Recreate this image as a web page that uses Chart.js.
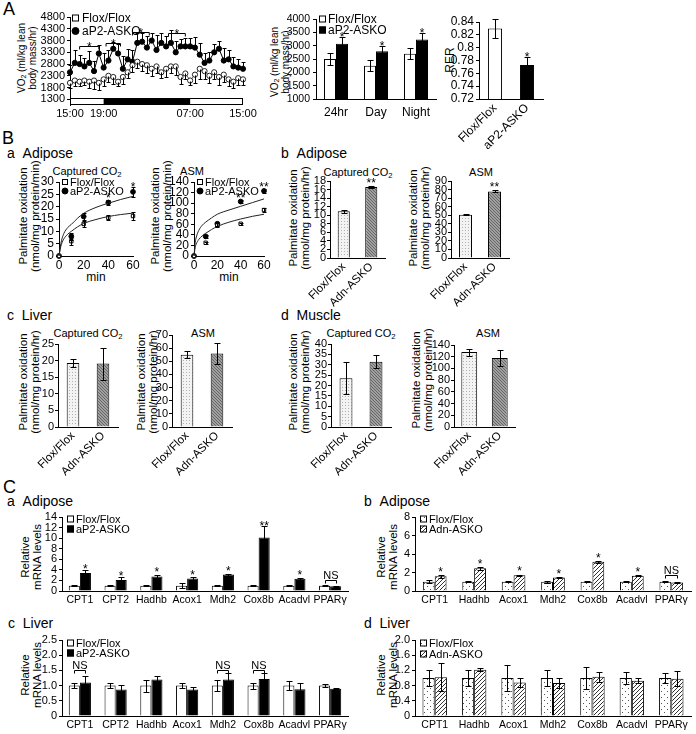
<!DOCTYPE html>
<html>
<head>
<meta charset="utf-8">
<script src="https://cdn.jsdelivr.net/npm/chart.js@4"></script>
<style>
body { margin: 0; background: #fff; font-family: 'Liberation Sans', Arial, sans-serif; color: #000; }
#page { position: relative; width: 696px; height: 734px; overflow: hidden; }
.c { position: absolute; }
.h { position: absolute; transform: translateY(-50%); white-space: nowrap; }
.big { font-size: 18px; }
.sub { font-size: 14px; }
.ct { position: absolute; transform: translate(-50%, -50%); font-size: 11px; white-space: nowrap; }
.yt { position: absolute; transform: translate(-50%, -50%) rotate(-90deg); text-align: center; white-space: nowrap; font-size: 11.5px; line-height: 12px; }
sub { font-size: 0.7em; vertical-align: -0.2em; line-height: 0; }
</style>
</head>
<body>
<div id="page">
  <div class="h big" style="left:3px;top:9px">A</div>
  <div class="h big" style="left:2px;top:138px">B</div>
  <div class="h sub" style="left:7px;top:153px">a&nbsp;&nbsp;Adipose</div>
  <div class="h sub" style="left:281px;top:153px">b&nbsp;&nbsp;Adipose</div>
  <div class="h sub" style="left:7px;top:315px">c&nbsp;&nbsp;Liver</div>
  <div class="h sub" style="left:281px;top:315px">d&nbsp;&nbsp;Muscle</div>
  <div class="h big" style="left:3px;top:487px">C</div>
  <div class="h sub" style="left:7px;top:501px">a&nbsp;&nbsp;Adipose</div>
  <div class="h sub" style="left:364px;top:501px">b&nbsp;&nbsp;Adipose</div>
  <div class="h sub" style="left:8px;top:623px">c&nbsp;&nbsp;Liver</div>
  <div class="h sub" style="left:364px;top:623px">d&nbsp;&nbsp;Liver</div>

  <div class="ct" style="left:87px;top:171px">Captured CO<sub>2</sub></div>
  <div class="ct" style="left:192px;top:171px">ASM</div>
  <div class="ct" style="left:358px;top:172px">Captured CO<sub>2</sub></div>
  <div class="ct" style="left:481px;top:172px">ASM</div>
  <div class="ct" style="left:88px;top:333px">Captured CO<sub>2</sub></div>
  <div class="ct" style="left:203px;top:333px">ASM</div>
  <div class="ct" style="left:361px;top:333px">Captured CO<sub>2</sub></div>
  <div class="ct" style="left:488px;top:333px">ASM</div>
  <div class="ct" style="left:96px;top:277px;font-size:12px">min</div>
  <div class="ct" style="left:229px;top:277px;font-size:12px">min</div>

  <div class="yt" style="left:27px;top:58px;font-size:10px;line-height:11px">VO<sub>2</sub> (ml/kg lean<br>body mass/hr)</div>
  <div class="yt" style="left:280px;top:62px;font-size:10px;line-height:11px">VO<sub>2</sub> (ml/kg lean<br>body mass/hr)</div>
  <div class="yt" style="left:450px;top:60px;font-size:12px">RER</div>
  <div class="yt" style="left:29px;top:216px">Palmitate oxidation<br>(nmol/mg protein/min)</div>
  <div class="yt" style="left:161px;top:216px">Palmitate oxidation<br>(nmol/mg protein/min)</div>
  <div class="yt" style="left:299px;top:218px">Palmitate oxidation<br>(nmol/mg protein/hr)</div>
  <div class="yt" style="left:419px;top:218px">Palmitate oxidation<br>(nmol/mg protein/hr)</div>
  <div class="yt" style="left:29px;top:382px">Palmitate oxidation<br>(nmol/mg protein/hr)</div>
  <div class="yt" style="left:147px;top:382px">Palmitate oxidation<br>(nmol/mg protein/hr)</div>
  <div class="yt" style="left:299px;top:382px">Palmitate oxidation<br>(nmol/mg protein/hr)</div>
  <div class="yt" style="left:422px;top:380px">Palmitate oxidation<br>(nmol/mg protein/hr)</div>
  <div class="yt" style="left:31px;top:557px">Relative<br>mRNA levels</div>
  <div class="yt" style="left:387px;top:557px">Relative<br>mRNA levels</div>
  <div class="yt" style="left:31px;top:675px">Relative<br>mRNA levels</div>
  <div class="yt" style="left:387px;top:675px">Relative<br>mRNA levels</div>
</div>
<script>
// ---------- data ----------
// A: VO2 time course, one reading every 40 min
const vo2Flox = [2000, 2100, 2050, 2100, 2050, 2100, 2000, 2150, 2300, 2250, 2050, 2250, 2450, 2750, 2900, 2800, 2750, 2600, 2700,
  2450, 2600, 2700, 2700, 2250, 2400, 2100, 2350, 2600, 2500, 2300, 2450, 2250, 2350, 2150, 2050, 2200, 2150];
const vo2FloxErr = [200, 250, 200, 200, 250, 350, 300, 300, 250, 300, 200, 300, 250, 300, 250, 300, 350, 300, 300,
  250, 350, 300, 350, 300, 250, 200, 350, 450, 350, 300, 300, 350, 300, 300, 250, 300, 250];
const vo2Ko = [2450, 2850, 2800, 2700, 2850, 2500, 3250, 2650, 2950, 3450, 3250, 2600, 3000, 2900, 3700, 3750, 3500, 3800, 3400,
  3700, 3550, 3700, 3300, 3550, 3550, 3550, 3500, 3200, 2850, 2950, 3300, 3450, 2950, 3000, 2700, 2650, 2600];
const vo2KoErr = [300, 550, 400, 350, 500, 450, 350, 600, 450, 300, 400, 550, 450, 500, 400, 350, 500, 300, 650,
  400, 450, 550, 500, 300, 350, 350, 450, 500, 400, 350, 350, 350, 550, 400, 400, 350, 300];
const clockTickAt = [0, 7, 25, 36];
const clockTickText = ['15:00', '19:00', '07:00', '15:00'];
const darkFrom = 7, darkTo = 25;
const vo2Ticks = [1300, 1800, 2300, 2800, 3300, 3800, 4300, 4800];
const vo2Sig = [[2, 6, 3550], [7.5, 10.5, 3700], [13, 16.5, 4150], [20.5, 24, 4100]];

// A: VO2 by period
const periods = ['24hr', 'Day', 'Night'];
const avgFlox = [2500, 2250, 2700], avgFloxErr = [220, 200, 200];
const avgKo = [3070, 2790, 3230], avgKoErr = [260, 200, 230];
const avgTicks = [1000, 1500, 2000, 2500, 3000, 3500, 4000];

// A: RER
const groupsA = ['Flox/Flox', 'aP2-ASKO'];
const rer = [0.83, 0.773], rerErr = [0.015, 0.012];
const rerTicks = [0.72, 0.74, 0.76, 0.78, 0.8, 0.82, 0.84];

// B a: palmitate oxidation time course (min)
const sampleMin = [0, 10, 20, 40, 60];
const coFlox = [0, 6, 13, 15.5, 16.2], coFloxErr = [0, 1.5, 1.2, 1, 1.5];
const coKo = [0, 8, 16, 21.7, 26], coKoErr = [0, 1.5, 1.3, 1.2, 2];
const asmFlox = [0, 25, 58, 61, 87], asmFloxErr = [0, 2, 4, 2, 3];
const asmKo = [0, 37, 61, 103, 123], asmKoErr = [0, 3, 4, 3, 4];
const fitMin = [0, 1, 2, 4, 7, 10, 15, 20, 30, 40, 50, 60];
const coFloxFit = [0, 2.8, 4.8, 7, 8.8, 10, 11.8, 13.2, 14.8, 16, 16.8, 17.4];
const coKoFit = [0, 3.6, 6.2, 9.2, 11.5, 12.8, 15.3, 17.3, 19.7, 21.4, 22.9, 24.2];
const asmFloxFit = [0, 16, 23, 31, 38, 43, 50, 56, 64, 70, 75, 79];
const asmKoFit = [0, 25, 36, 48, 58, 64, 72, 79, 87, 94, 101, 108];

// B b-d: two-group bars
const groupsB = ['Flox/Flox', 'Adn-ASKO'];
const adCO2 = [10.9, 16.6], adCO2Err = [0.3, 0.2];
const adASM = [50.5, 77.8], adASMErr = [0.6, 1.2];
const lvCO2 = [19.3, 19.1], lvCO2Err = [1.3, 4.8];
const lvASM = [55, 56], lvASMErr = [2.5, 8];
const msCO2 = [23.5, 31.5], msCO2Err = [7.7, 3];
const msASM = [128, 118], msASMErr = [6, 13];

// C: relative mRNA levels
const genes8 = ['CPT1', 'CPT2', 'Hadhb', 'Acox1', 'Mdh2', 'Cox8b', 'Acadvl', 'PPAR\u03b3'];
const genes7 = ['CPT1', 'Hadhb', 'Acox1', 'Mdh2', 'Cox8b', 'Acadvl', 'PPAR\u03b3'];
const caFlox = [1, 1, 1, 1, 1, 1, 1, 1], caFloxErr = [0.08, 0.05, 0.05, 0.5, 0.05, 0.05, 0.05, 0.1];
const caKo = [3.4, 2.1, 2.75, 2.35, 3.1, 10.1, 2.3, 0.9], caKoErr = [0.6, 0.55, 0.3, 0.25, 0.2, 2.2, 0.25, 0.05];
const cbFlox = [1, 1, 1, 1, 1, 1, 1], cbFloxErr = [0.15, 0.03, 0.05, 0.12, 0.03, 0.05, 0.03];
const cbKo = [1.6, 2.45, 1.7, 1.45, 3.15, 1.65, 0.93], cbKoErr = [0.15, 0.15, 0.05, 0.08, 0.07, 0.07, 0.03];
const ccFlox = [1, 1, 1, 1, 1, 1, 1, 1], ccFloxErr = [0.08, 0.08, 0.2, 0.08, 0.18, 0.1, 0.15, 0.05];
const ccKo = [1.1, 0.87, 1.2, 0.87, 1.2, 1.22, 0.88, 0.9], ccKoErr = [0.22, 0.14, 0.1, 0.1, 0.2, 0.2, 0.2, 0.02];
const cdFlox = [1, 1, 1, 1, 1, 1, 1], cdFloxErr = [0.22, 0.2, 0.33, 0.22, 0.3, 0.15, 0.12];
const cdKo = [1.02, 1.22, 0.88, 0.87, 1.03, 0.93, 0.98], cdKoErr = [0.37, 0.04, 0.12, 0.14, 0.14, 0.07, 0.2];

// ---------- setup ----------
const FONT = "'Liberation Sans', Arial, sans-serif";
Chart.defaults.font.family = FONT;
Chart.defaults.font.size = 11;
Chart.defaults.color = '#000';
Chart.defaults.animation = false;
Chart.defaults.plugins.legend.display = false;
Chart.defaults.plugins.tooltip.enabled = false;

function tile(w, h, paint) {
  const c = document.createElement('canvas');
  c.width = w; c.height = h;
  const g = c.getContext('2d');
  paint(g);
  return g.createPattern(c, 'repeat');
}
const dotsLight = tile(3, 3, g => { g.fillStyle = '#f3f3f3'; g.fillRect(0, 0, 3, 3); g.fillStyle = '#b0b0b0'; g.fillRect(1, 1, 1, 1); });
const grayHatch = tile(3, 3, g => { g.fillStyle = '#a0a0a0'; g.fillRect(0, 0, 3, 3); g.fillStyle = '#666'; for (let k = 0; k < 3; k++) g.fillRect(k, k, 1, 1); });
const dotsSparse = tile(6, 6, g => { g.fillStyle = '#fff'; g.fillRect(0, 0, 6, 6); g.fillStyle = '#555'; g.fillRect(2, 1, 1, 1); g.fillRect(5, 4, 1, 1); });
const stripes = tile(4, 4, g => { g.fillStyle = '#fff'; g.fillRect(0, 0, 4, 4); g.fillStyle = '#333'; for (let k = 0; k < 4; k++) g.fillRect(k, 3 - k, 1, 1); });

// plot = [left, top, right, bottom] of the chart area on the page, m = room around it
function frame(plot, m) {
  const [L, T, R, B] = plot;
  const box = document.createElement('div');
  box.className = 'c';
  Object.assign(box.style, {
    left: (L - m[0]) + 'px', top: (T - m[1]) + 'px',
    width: (R - L + m[0] + m[2]) + 'px', height: (B - T + m[1] + m[3]) + 'px'
  });
  const cv = document.createElement('canvas');
  box.appendChild(cv);
  document.getElementById('page').appendChild(box);
  return cv;
}

function yAxis(m, min, max, ticks, fmt, size, pad) {
  return {
    min, max,
    afterFit: s => { s.width = m[0]; },
    afterBuildTicks: s => { s.ticks = ticks.map(v => ({ value: v })); },
    border: { display: true, color: '#000', width: 1 },
    grid: { drawOnChartArea: false, drawTicks: true, tickLength: 3, color: '#000' },
    ticks: { autoSkip: false, padding: pad == null ? 2 : pad, font: { size: size || 11 }, callback: fmt || (v => String(v)) },
  };
}

function xCat(m, rot, size, pad) {
  return {
    afterFit: s => { s.height = m[3]; },
    border: { display: true, color: '#000', width: 1 },
    grid: { display: true, drawOnChartArea: false, drawTicks: false },
    ticks: { autoSkip: false, maxRotation: rot, minRotation: rot, padding: pad, font: { size } },
  };
}

// error bars, stars, brackets, light/dark bar and the small keys
function decor(cfg) {
  function bracket(ctx, a, b, yy, text, size, lift) {
    ctx.beginPath();
    ctx.moveTo(a, yy + 3); ctx.lineTo(a, yy); ctx.lineTo(b, yy); ctx.lineTo(b, yy + 3);
    ctx.stroke();
    ctx.font = size + 'px ' + FONT;
    ctx.textAlign = 'center'; ctx.textBaseline = 'alphabetic';
    ctx.fillText(text, (a + b) / 2, yy + lift);
  }
  return {
    id: 'decor',
    beforeDatasetsDraw(chart) {
      const lb = cfg.lightBar;
      if (!lb) return;
      const { ctx, scales: { x, y } } = chart;
      const x0 = x.getPixelForValue(x.min), x1 = x.getPixelForValue(x.max);
      const t = Math.round(y.getPixelForValue(lb.high)), b = Math.round(y.getPixelForValue(lb.low));
      const a = x.getPixelForValue(lb.from), e = x.getPixelForValue(lb.to);
      ctx.save();
      ctx.fillStyle = '#fff'; ctx.fillRect(x0, t, x1 - x0, b - t);
      ctx.fillStyle = '#000'; ctx.fillRect(a, t, e - a, b - t);
      ctx.strokeStyle = '#000'; ctx.lineWidth = 1;
      ctx.strokeRect(Math.round(x0) + 0.5, t + 0.5, Math.round(x1 - x0) - 1, b - t - 1);
      ctx.restore();
    },
    afterDatasetsDraw(chart) {
      const { ctx, scales: { x, y } } = chart;
      const cap = cfg.cap || 3;
      ctx.save();
      ctx.strokeStyle = '#000'; ctx.fillStyle = '#000'; ctx.lineWidth = 1;
      chart.data.datasets.forEach((ds, di) => {
        if (!ds.errors && !ds.stars) return;
        chart.getDatasetMeta(di).data.forEach((el, i) => {
          const raw = ds.data[i];
          const val = typeof raw === 'object' ? raw.y : raw;
          const e = ds.errors ? ds.errors[i] : 0;
          const up = ds.errDir !== 'down' ? e : 0, dn = ds.errDir !== 'up' ? e : 0;
          const px = Math.round(el.x) + 0.5;
          const top = Math.round(y.getPixelForValue(val + up)) + 0.5;
          const bot = Math.round(y.getPixelForValue(val - dn)) + 0.5;
          if (e) {
            ctx.beginPath();
            ctx.moveTo(px, top); ctx.lineTo(px, bot);
            if (up) { ctx.moveTo(px - cap, top); ctx.lineTo(px + cap, top); }
            if (dn) { ctx.moveTo(px - cap, bot); ctx.lineTo(px + cap, bot); }
            ctx.stroke();
          }
          if (ds.stars && ds.stars[i]) {
            ctx.font = (cfg.starSize || 12) + 'px ' + FONT;
            ctx.textAlign = 'center'; ctx.textBaseline = 'alphabetic';
            ctx.fillText(ds.stars[i], el.x, Math.min(top, el.y - 3) + 3);
          }
        });
      });
      (cfg.spans || []).forEach(s => bracket(ctx, x.getPixelForValue(s[0]), x.getPixelForValue(s[1]),
        Math.round(y.getPixelForValue(s[2])) + 0.5, '*', 12, 4));
      (cfg.ns || []).forEach(n => {
        const a = chart.getDatasetMeta(0).data[n.index].x, b = chart.getDatasetMeta(1).data[n.index].x;
        bracket(ctx, Math.round(a) + 0.5, Math.round(b) + 0.5, Math.round(y.getPixelForValue(n.value)) + 0.5, 'NS', 11, -2);
      });
      const k = cfg.key;
      if (k) {
        const area = chart.chartArea;
        ctx.font = k.size + 'px ' + FONT;
        ctx.textAlign = 'left'; ctx.textBaseline = 'middle';
        k.items.forEach((it, n) => {
          const cx = Math.round(area.left + k.dx), cy = Math.round(area.top + k.dy + n * k.row);
          const s = k.box;
          ctx.fillStyle = it.fill;
          if (it.shape === 'circle') {
            ctx.beginPath(); ctx.arc(cx + s / 2, cy, s / 2, 0, 2 * Math.PI); ctx.fill(); ctx.stroke();
          } else {
            ctx.fillRect(cx, cy - s / 2, s, s);
            ctx.strokeRect(cx + 0.5, cy - s / 2 + 0.5, s - 1, s - 1);
          }
          ctx.fillStyle = '#000';
          ctx.fillText(it.text, cx + s + k.gap, cy + 0.5);
        });
      }
      ctx.restore();
    },
  };
}

function barChart(o) {
  const datasets = o.sets.map(s => ({
    data: s.data, errors: s.errors, errDir: s.errDir || 'both', stars: s.stars,
    backgroundColor: s.fill, borderColor: '#000', borderWidth: 1,
    barPercentage: 1, categoryPercentage: o.catPct,
  }));
  return new Chart(frame(o.plot, o.m), {
    type: 'bar',
    data: { labels: o.labels, datasets },
    options: {
      responsive: true, maintainAspectRatio: false,
      layout: { padding: { top: o.m[1], right: o.m[2], left: 0, bottom: 0 } },
      scales: {
        x: xCat(o.m, o.rot || 0, o.xSize || 11, o.xPad == null ? 3 : o.xPad),
        y: yAxis(o.m, o.yMin, o.yMax, o.yTicks, o.fmt, o.ySize, o.yPad),
      },
    },
    plugins: [decor(o.decor || {})],
  });
}

function curveChart(o) {
  const pts = vals => vals.map((v, i) => ({ x: sampleMin[i], y: v }));
  const fit = vals => vals.map((v, i) => ({ x: fitMin[i], y: v }));
  return new Chart(frame(o.plot, o.m), {
    type: 'line',
    data: {
      datasets: [
        { data: fit(o.floxFit), borderColor: '#222', borderWidth: 1, pointRadius: 0, cubicInterpolationMode: 'monotone', clip: false },
        { data: fit(o.koFit), borderColor: '#222', borderWidth: 1, pointRadius: 0, cubicInterpolationMode: 'monotone', clip: false },
        { data: pts(o.flox), errors: o.floxErr, showLine: false, pointStyle: 'rect', pointRadius: 2.4,
          pointBackgroundColor: '#fff', pointBorderColor: '#000', pointBorderWidth: 1, clip: false },
        { data: pts(o.ko), errors: o.koErr, stars: o.stars, showLine: false, pointRadius: 2.4,
          pointBackgroundColor: '#000', pointBorderColor: '#000', clip: false },
      ]
    },
    options: {
      responsive: true, maintainAspectRatio: false,
      layout: { padding: { top: o.m[1], right: o.m[2], left: 0, bottom: 0 } },
      scales: {
        x: {
          type: 'linear', min: 0, max: 60,
          afterFit: s => { s.height = o.m[3]; },
          afterBuildTicks: s => { s.ticks = [0, 20, 40, 60].map(v => ({ value: v })); },
          border: { display: true, color: '#000' },
          grid: { drawOnChartArea: false, drawTicks: false },
          ticks: { autoSkip: false, maxRotation: 0, padding: 2, font: { size: 12 } },
        },
        y: yAxis(o.m, o.yMin, o.yMax, o.yTicks, null, 12),
      },
    },
    plugins: [decor({
      cap: 2, starSize: 12,
      key: { dx: 3, dy: 0, row: 8.5, box: 6, gap: 2, size: 11, items: [
        { text: 'Flox/Flox', fill: '#fff' }, { text: 'aP2-ASKO', fill: '#000', shape: 'circle' }] },
    })],
  });
}

// ---------- A ----------
{
  const m = [52, 10, 16, 22];
  new Chart(frame([70, 17, 243, 105], m), {
    type: 'line',
    data: {
      datasets: [
        { data: vo2Flox.map((v, i) => ({ x: i, y: v })), errors: vo2FloxErr, errDir: 'down',
          borderColor: '#555', borderWidth: 1, pointRadius: 2.6, pointBackgroundColor: '#fff',
          pointBorderColor: '#222', pointBorderWidth: 1, clip: false },
        { data: vo2Ko.map((v, i) => ({ x: i, y: v })), errors: vo2KoErr, errDir: 'up',
          borderColor: '#000', borderWidth: 1, pointRadius: 2.6, pointBackgroundColor: '#000',
          pointBorderColor: '#000', clip: false },
      ]
    },
    options: {
      responsive: true, maintainAspectRatio: false,
      layout: { padding: { top: m[1], right: m[2], left: 0, bottom: 0 } },
      scales: {
        x: {
          type: 'linear', min: 0, max: 36,
          afterFit: s => { s.height = m[3]; },
          afterBuildTicks: s => { s.ticks = clockTickAt.map(v => ({ value: v })); },
          border: { display: false },
          grid: { display: false, drawTicks: false },
          ticks: { autoSkip: false, maxRotation: 0, padding: 2, callback: (v, i) => clockTickText[i] },
        },
        y: yAxis(m, 1060, 4800, vo2Ticks),
      },
    },
    plugins: [decor({
      cap: 2,
      lightBar: { from: darkFrom, to: darkTo, low: 1080, high: 1370 },
      spans: vo2Sig,
      key: { dx: 2, dy: 1, row: 12.5, box: 7, gap: 3, size: 12, items: [
        { text: 'Flox/Flox', fill: '#fff' }, { text: 'aP2-ASKO', fill: '#000', shape: 'circle' }] },
    })],
  });
}

barChart({
  plot: [316, 19, 436, 99], m: [42, 10, 12, 22], labels: periods, catPct: 0.6,
  yMin: 1000, yMax: 4000, yTicks: avgTicks, ySize: 10.5, yPad: 3, xSize: 12, xPad: 6,
  sets: [
    { data: avgFlox, errors: avgFloxErr, fill: '#fff' },
    { data: avgKo, errors: avgKoErr, fill: '#000', stars: ['*', '*', '*'] },
  ],
  decor: { key: { dx: 3, dy: 0, row: 10.5, box: 7, gap: 2, size: 12, items: [
    { text: 'Flox/Flox', fill: '#fff' }, { text: 'aP2-ASKO', fill: '#000' }] } },
});

barChart({
  plot: [479, 22, 543, 99], m: [32, 10, 6, 60], labels: groupsA, catPct: 0.44,
  yMin: 0.72, yMax: 0.84, yTicks: rerTicks, fmt: v => String(+v.toFixed(2)), ySize: 12,
  rot: 45, xSize: 12, xPad: 2,
  sets: [{ data: rer, errors: rerErr, fill: ['#fff', '#000'], stars: ['', '*'] }],
});

// ---------- B ----------
curveChart({
  plot: [59, 182, 133, 256], m: [32, 12, 16, 30], yMin: 0, yMax: 30, yTicks: [0, 5, 10, 15, 20, 25, 30],
  flox: coFlox, floxErr: coFloxErr, ko: coKo, koErr: coKoErr, floxFit: coFloxFit, koFit: coKoFit,
  stars: ['', '', '', '*', '*'],
});
curveChart({
  plot: [194, 182, 264, 256], m: [32, 12, 16, 30], yMin: 0, yMax: 140, yTicks: [0, 20, 40, 60, 80, 100, 120, 140],
  flox: asmFlox, floxErr: asmFloxErr, ko: asmKo, koErr: asmKoErr, floxFit: asmFloxFit, koFit: asmKoFit,
  stars: ['', '', '', '**', '**'],
});

const twoBars = (plot, pct, max, ticks, vals, errs, stars, dm) => barChart({
  plot, m: [dm || 32, 12, 8, 62], labels: groupsB, catPct: pct, yMin: 0, yMax: max, yTicks: ticks,
  rot: 45, xSize: 11.5, xPad: 2, yPad: 1,
  sets: [{ data: vals, errors: errs, fill: [dotsLight, grayHatch], stars }],
});
twoBars([330, 181, 385, 258], 0.44, 18, [0, 2, 4, 6, 8, 10, 12, 14, 16, 18], adCO2, adCO2Err, ['', '**']);
twoBars([451, 181, 509, 258], 0.45, 90, [0, 10, 20, 30, 40, 50, 60, 70, 80, 90], adASM, adASMErr, ['', '**']);
twoBars([58, 344, 118, 427], 0.42, 25, [0, 5, 10, 15, 20, 25], lvCO2, lvCO2Err);
twoBars([172, 335, 232, 427], 0.42, 70, [0, 10, 20, 30, 40, 50, 60, 70], lvASM, lvASMErr);
twoBars([331, 344, 391, 427], 0.43, 40, [0, 5, 10, 15, 20, 25, 30, 35, 40], msCO2, msCO2Err);
twoBars([454, 345, 515, 427], 0.52, 140, [0, 20, 40, 60, 80, 100, 120, 140], msASM, msASMErr, null, 34);

// ---------- C ----------
const keyBW = { dx: 5, dy: 2, row: 9.5, box: 7, gap: 2, size: 11, items: [
  { text: 'Flox/Flox', fill: '#fff' }, { text: 'aP2-ASKO', fill: '#000' }] };
const keyPat = { dx: 5, dy: 2, row: 10, box: 7, gap: 2, size: 11, items: [
  { text: 'Flox/Flox', fill: dotsSparse }, { text: 'Adn-ASKO', fill: stripes }] };
const oneDec = v => (v === 0 ? '0' : v.toFixed(1));

barChart({
  plot: [62, 517, 348, 591], m: [32, 10, 6, 20], labels: genes8, catPct: 0.62, xSize: 10.5,
  yMin: 0, yMax: 14, yTicks: [0, 2, 4, 6, 8, 10, 12, 14],
  sets: [
    { data: caFlox, errors: caFloxErr, fill: '#fff' },
    { data: caKo, errors: caKoErr, fill: '#000', stars: ['*', '*', '*', '*', '*', '**', '*', ''] },
  ],
  decor: { key: keyBW, ns: [{ index: 7, value: 2 }] },
});
barChart({
  plot: [415, 517, 691, 591], m: [32, 10, 4, 20], labels: genes7, catPct: 0.6, xSize: 10.5,
  yMin: 0, yMax: 8, yTicks: [0, 2, 4, 6, 8],
  sets: [
    { data: cbFlox, errors: cbFloxErr, fill: dotsSparse },
    { data: cbKo, errors: cbKoErr, fill: stripes, stars: ['*', '*', '*', '*', '*', '*', ''] },
  ],
  decor: { key: keyPat, ns: [{ index: 6, value: 1.7 }] },
});
barChart({
  plot: [62, 640, 348, 716], m: [32, 10, 6, 18], labels: genes8, catPct: 0.62, xSize: 10.5,
  yMin: 0, yMax: 2.5, yTicks: [0, 0.5, 1, 1.5, 2, 2.5], fmt: oneDec,
  sets: [
    { data: ccFlox, errors: ccFloxErr, fill: '#fff' },
    { data: ccKo, errors: ccKoErr, fill: '#000' },
  ],
  decor: { key: Object.assign({}, keyBW, { dy: 3, row: 10 }), ns: [{ index: 0, value: 1.5 }, { index: 4, value: 1.5 }, { index: 5, value: 1.5 }] },
});
barChart({
  plot: [415, 640, 691, 716], m: [32, 10, 4, 18], labels: genes7, catPct: 0.62, xSize: 10.5,
  yMin: 0, yMax: 2, yTicks: [0, 0.4, 0.8, 1.2, 1.6, 2], fmt: oneDec,
  sets: [
    { data: cdFlox, errors: cdFloxErr, fill: dotsSparse },
    { data: cdKo, errors: cdKoErr, fill: stripes },
  ],
  decor: { key: Object.assign({}, keyPat, { dy: 3, row: 11 }) },
});
</script>
</body>
</html>
